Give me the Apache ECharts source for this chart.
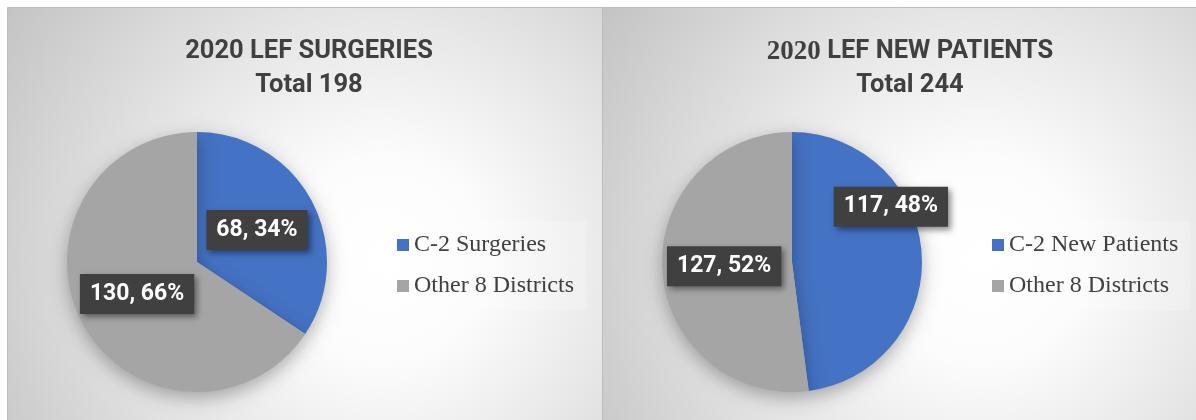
<!DOCTYPE html>
<html>
<head>
<meta charset="utf-8">
<script src="https://cdn.jsdelivr.net/npm/echarts@6/dist/echarts.min.js"></script>
<style>
html,body{margin:0;padding:0;background:#ffffff;}
#main{width:1196px;height:420px;}
</style>
</head>
<body>
<div id="main"></div>
<script>
// data
var surgeryNames = ['C-2 Surgeries', 'Other 8 Districts'];
var surgeryValues = [68, 130];
var patientNames = ['C-2 New Patients', 'Other 8 Districts'];
var patientValues = [117, 127];
var sliceColors = ['#4472C4', '#A5A5A5'];

function makeData(names, values){
	var out = [];
	for (var i = 0; i < names.length; i++) {
		out.push({name: names[i], value: values[i], itemStyle: {color: sliceColors[i]}});
	}
	return out;
}

function panelBg(x, w){
	return {
		type: 'rect',
		z: -10,
		shape: {x: x, y: 7.5, width: w, height: 420},
		style: {
			fill: {
				type: 'radial', x: 0.63, y: 0.6, r: 1.1,
				colorStops: [
					{offset: 0, color: '#ffffff'},
					{offset: 0.22, color: '#fcfcfc'},
					{offset: 0.5, color: '#e8e8e8'},
					{offset: 1, color: '#c2c2c2'}
				]
			},
			stroke: '#bcbcbc',
			lineWidth: 1
		}
	};
}

var labelStyle = {
	show: true,
	position: 'inside',
	formatter: '{c}, {d}%',
	color: '#ffffff',
	fontFamily: 'Roboto',
	fontWeight: 'bold',
	fontSize: 23,
	lineHeight: 24,
	backgroundColor: '#404040',
	padding: [8, 10],
	shadowBlur: 6,
	shadowOffsetX: 3,
	shadowOffsetY: 3,
	shadowColor: 'rgba(0,0,0,0.45)'
};

var titleStyle = {
	color: '#404040',
	fontFamily: 'Roboto',
	fontWeight: 'bold',
	fontSize: 25.5,
	lineHeight: 34
};

var legendText = {
	color: '#404040',
	fontFamily: 'Liberation Serif',
	fontSize: 24,
	lineHeight: 24
};

var dataLeft = makeData(surgeryNames, surgeryValues);
var dataRight = makeData(patientNames, patientValues);
// the label of the blue slice on the right was moved by hand in the source
dataRight[0].label = {offset: [31, -51]};

function legendAt(x, names){
	return {
		orient: 'vertical',
		left: x, top: 221,
		padding: 12,
		backgroundColor: 'rgba(255,255,255,0.22)',
		icon: 'rect', itemWidth: 12, itemHeight: 12, itemGap: 17,
		selectedMode: false,
		data: names,
		textStyle: legendText
	};
}

function pieAt(cx, data){
	return {
		type: 'pie',
		center: [cx, 262],
		radius: 130,
		startAngle: 90,
		percentPrecision: 0,
		label: labelStyle,
		labelLine: {show: false},
		itemStyle: {shadowBlur: 18, shadowOffsetY: 6, shadowColor: 'rgba(0,0,0,0.3)'},
		emphasis: {disabled: true},
		data: data
	};
}

var chart = echarts.init(document.getElementById('main'));
var option = {
	animation: false,
	graphic: [panelBg(7.5, 595), panelBg(602.5, 600)],
	title: [
		{
			text: '2020 LEF SURGERIES\nTotal 198',
			left: 304, top: 30, textAlign: 'center',
			textStyle: titleStyle
		},
		{
			text: '{s|2020} LEF NEW PATIENTS\nTotal 244',
			left: 905, top: 30, textAlign: 'center',
			// the "2020" here is set in a serif face in the source
			textStyle: Object.assign({}, titleStyle, {
				rich: {s: {fontFamily: 'Liberation Serif', fontWeight: 'bold', fontSize: 27, color: '#404040'}}
			})
		}
	],
	legend: [legendAt(385, surgeryNames), legendAt(980, patientNames)],
	series: [pieAt(197, dataLeft), pieAt(792, dataRight)]
};
chart.setOption(option);
</script>
</body>
</html>
